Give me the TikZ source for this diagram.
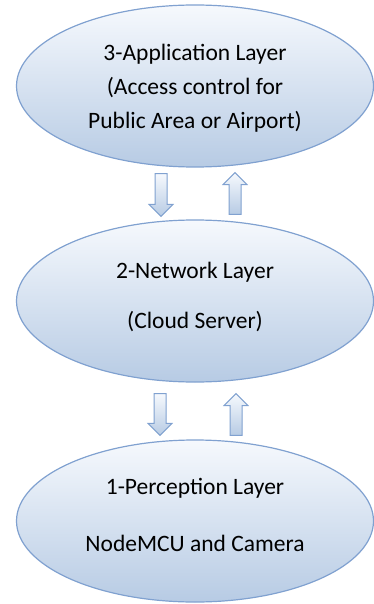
\documentclass[tikz,border=0pt]{standalone}
\usepackage{fontspec}
\setmainfont{Carlito}
\usepackage{tikz}
\usetikzlibrary{shapes,calc}
\definecolor{layerline}{RGB}{128,161,208}
\definecolor{layertop}{RGB}{246,249,253}
\definecolor{layerbot}{RGB}{183,203,228}
\tikzset{
         layer/.style={ellipse,draw=layerline,line width=1.2pt,top color=layertop,bottom color=layerbot,
                       minimum width=357pt,minimum height=162pt,inner sep=0pt},
         layertext/.style={align=center,inner sep=0pt,font=\fontsize{23.5}{34}\selectfont},
         blockarr/.style={draw=layerline,line width=1pt,top color=layertop,bottom color=layerbot}
        }
\newcommand{\blockarrow}[2]{%
  \coordinate (h) at ($(#2)!12pt!(#1)$);
  \shadedraw[blockarr] ($(#1)!6pt!90:(#2)$) -- ($(h)!6pt!-90:(#1)$) -- ($(h)!12pt!-90:(#1)$) -- (#2)
     -- ($(h)!12pt!90:(#1)$) -- ($(h)!6pt!90:(#1)$) -- ($(#1)!6pt!-90:(#2)$) -- cycle;}
\begin{document}
\begin{tikzpicture}[x=1pt,y=-1pt]
      \useasboundingbox (0,0) rectangle (373,604); % page size
      \node[layer] (app) at (195,86) {}; % top layer
      \node[layer] (net) at (195,301) {}; % middle layer
      \node[layer] (per) at (195,521) {}; % bottom layer
      \node[layertext] (apptext) at ($(app)+(0,2)$) {3-Application Layer\\(Access control for\\Public Area or Airport)}; % top text
      \node[layertext] (nettext) at ($(net)+(0,-4)$) {2-Network Layer\\[16pt](Cloud Server)}; % middle text
      \node[layertext] (pertext) at ($(per)+(0,-6)$) {1-Perception Layer\\[23pt]NodeMCU and Camera}; % bottom text
      \coordinate (d1a) at ($(app.south)+(-34,6)$); \coordinate (d1b) at ($(net.north)+(-34,-3)$);
      \coordinate (u1a) at ($(net.north)+(40,-5)$); \coordinate (u1b) at ($(app.south)+(40,5)$);
      \coordinate (d2a) at ($(net.south)+(-35,11)$); \coordinate (d2b) at ($(per.north)+(-35,-4)$);
      \coordinate (u2a) at ($(per.north)+(41,-4)$); \coordinate (u2b) at ($(net.south)+(41,11)$);
      \blockarrow{d1a}{d1b} % down 3 to 2
      \blockarrow{u1a}{u1b} % up 2 to 3
      \blockarrow{d2a}{d2b} % down 2 to 1
      \blockarrow{u2a}{u2b} % up 1 to 2
\end{tikzpicture}
\end{document}
